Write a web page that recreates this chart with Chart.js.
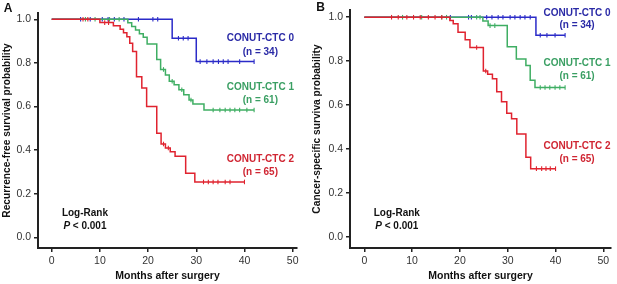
<!DOCTYPE html>
<html><head><meta charset="utf-8">
<script src="https://cdn.jsdelivr.net/npm/chart.js@4.4.1/dist/chart.umd.min.js"></script>
<style>
html,body{margin:0;padding:0;background:#fff;}
#wrap{position:relative;width:617px;height:284px;overflow:hidden;background:#fff;}
canvas{position:absolute;top:0;}
#cA{left:0;} #cB{left:310px;}
</style></head><body>
<div id="wrap"><canvas id="cA" width="310" height="284"></canvas><canvas id="cB" width="307" height="284"></canvas></div>
<script>
// ---------- tick labels ----------
const xTicks = [0, 10, 20, 30, 40, 50];
const yTicks = [0, 0.2, 0.4, 0.6, 0.8, 1.0];
const groupNames = ['CONUT-CTC 0', 'CONUT-CTC 1', 'CONUT-CTC 2'];
const groupN = ['(n = 34)', '(n = 61)', '(n = 65)'];

// ---------- Panel A: recurrence-free survival ----------
const blueA_t = [0, 25, 30, 42];
const blueA_s = [1, 0.913, 0.806, 0.806];
const blueA_c = [6, 8, 10.5, 11.7, 13, 15, 18, 21, 22, 26.3, 27.3, 28.3, 30.8, 32.2, 33.5, 34.6, 35.6, 36.6, 39, 42];

const greenA_t = [0, 15.8, 16.6, 17.4, 18.2, 19.0, 19.8, 21.8, 22.6, 23.6, 24.4, 25.4, 26.4, 27.4, 28.5, 29.3, 31.6, 42];
const greenA_s = [1, 0.984, 0.967, 0.951, 0.934, 0.918, 0.887, 0.816, 0.77, 0.745, 0.716, 0.70, 0.677, 0.654, 0.63, 0.612, 0.584, 0.584];
const greenA_c = [7, 9, 12, 14, 23.2, 25.0, 27.0, 28.9, 33.5, 34.9, 36, 37, 38, 39, 40.5, 42];

const redA_t = [0, 10, 12.8, 14.2, 14.9, 15.6, 16.2, 16.8, 17.6, 18.7, 19.7, 21.8, 22.7, 23.6, 24.6, 25.6, 27.8, 29.7, 40];
const redA_s = [1, 0.985, 0.97, 0.955, 0.938, 0.92, 0.89, 0.852, 0.737, 0.685, 0.60, 0.477, 0.428, 0.41, 0.392, 0.372, 0.294, 0.254, 0.254];
const redA_c = [6.5, 7.5, 11, 11.8, 23.2, 24.2, 31.5, 32.5, 33.5, 34.5, 36, 37, 40];

// ---------- Panel B: cancer-specific survival ----------
const blueB_t = [0, 35.9, 42];
const blueB_s = [1, 0.918, 0.918];
const blueB_c = [18, 21.8, 22.4, 25.6, 26.7, 28, 29, 30.5, 31.5, 32.6, 33.6, 34.7, 36.8, 38.2, 39.9, 42];

const greenB_t = [0, 24.8, 25.9, 29.9, 31.8, 33.8, 34.7, 35.7, 42];
const greenB_s = [1, 0.983, 0.962, 0.865, 0.81, 0.78, 0.713, 0.68, 0.68];
const greenB_c = [8, 12, 16.2, 17.2, 23.5, 24.2, 26.3, 27.3, 36.8, 37.8, 38.8, 39.9, 40.9, 42];

const redB_t = [0, 17.9, 18.6, 19.6, 21.1, 22.1, 24.9, 25.8, 26.8, 27.7, 28.7, 29.8, 30.8, 31.9, 33.8, 34.8, 40];
const redB_s = [1, 0.985, 0.97, 0.932, 0.897, 0.862, 0.755, 0.74, 0.72, 0.66, 0.615, 0.563, 0.538, 0.468, 0.362, 0.31, 0.31];
const redB_c = [5.7, 7.1, 8.9, 10.3, 11.7, 13.4, 14.8, 16.2, 23.5, 25.4, 36, 37.1, 38, 38.9, 40];

// ---------- styling ----------
const FAM = '"Liberation Sans", Arial, Helvetica, sans-serif';
const lineCol = ['#2b2bc8', '#3fae63', '#e0232f'];
const textCol = ['#2a2aa6', '#3a9f63', '#d02633'];

function stepVal(ts, ss, t) {
  let v = ss[0];
  for (let i = 0; i < ts.length; i++) { if (ts[i] <= t) v = ss[i]; }
  return v;
}

function groupDatasets(ts, ss, cs, col) {
  return [
    { data: ts.map((t, i) => ({ x: t, y: ss[i] })), stepped: 'before', borderColor: col,
      borderWidth: 1.5, pointRadius: 0, fill: false, showLine: true },
    { data: cs.map(t => ({ x: t, y: stepVal(ts, ss, t) })), showLine: false, pointStyle: 'line',
      rotation: 90, pointRadius: 2.3, borderColor: col, backgroundColor: col, pointBorderWidth: 1.1 }
  ];
}

const textPlugin = {
  id: 'txt',
  afterDraw(chart, args, opts) {
    const ctx = chart.ctx, xs = chart.scales.x, ys = chart.scales.y;
    ctx.save();
    ctx.textBaseline = 'middle';
    (opts.items || []).forEach(it => {
      const px = xs.getPixelForValue(it.x), py = ys.getPixelForValue(it.y);
      if (it.parts) {
        let total = 0;
        it.parts.forEach(p => { ctx.font = p.font; total += ctx.measureText(p.text).width; });
        let cx = px - total / 2;
        ctx.textAlign = 'left';
        it.parts.forEach(p => { ctx.font = p.font; ctx.fillStyle = it.color; ctx.fillText(p.text, cx, py); cx += ctx.measureText(p.text).width; });
      } else {
        ctx.font = it.font; ctx.fillStyle = it.color; ctx.textAlign = 'center';
        ctx.fillText(it.text, px, py);
      }
    });
    if (opts.letter) {
      ctx.font = 'bold 12px ' + FAM; ctx.fillStyle = '#111'; ctx.textAlign = 'center';
      ctx.fillText(opts.letter.text, opts.letter.px, opts.letter.py);
    }
    ctx.restore();
  }
};

function makeChart(id, cfg) {
  const bold10 = 'bold 10px ' + FAM;
  const items = [];
  for (let g = 0; g < 3; g++) {
    items.push({ text: groupNames[g], x: cfg.labX, y: cfg.labY[g][0], font: bold10, color: textCol[g] });
    items.push({ text: groupN[g], x: cfg.labX, y: cfg.labY[g][1], font: bold10, color: textCol[g] });
  }
  items.push({ text: 'Log-Rank', x: cfg.lrX, y: cfg.lrY[0], font: bold10, color: '#111' });
  items.push({ parts: [{ text: 'P', font: 'italic bold 10px ' + FAM }, { text: ' < 0.001', font: bold10 }],
               x: cfg.lrX, y: cfg.lrY[1], color: '#111' });

  return new Chart(document.getElementById(id), {
    type: 'line',
    data: { datasets: cfg.datasets },
    plugins: [textPlugin],
    options: {
      responsive: false, animation: false, devicePixelRatio: 1,
      layout: { padding: { left: 0, top: cfg.padTop, right: cfg.padRight, bottom: 0 } },
      plugins: { legend: { display: false }, tooltip: { enabled: false },
        txt: { items: items, letter: cfg.letter } },
      scales: {
        x: {
          type: 'linear', min: cfg.xMin, max: cfg.xMax,
          afterBuildTicks: s => { s.ticks = xTicks.map(v => ({ value: v })); },
          afterFit: s => { s.height = 36; },
          grid: { display: true, drawOnChartArea: false, drawTicks: true, tickLength: 4, color: '#222', lineWidth: 1.5 },
          border: { display: true, color: '#222', width: 2 },
          ticks: { color: '#333', font: { size: 10.5, family: FAM }, padding: 3, maxRotation: 0, autoSkip: false,
                   callback: v => String(v) },
          title: { display: true, text: 'Months after surgery', color: '#111',
                   font: { size: 10.5, weight: 'bold', family: FAM }, padding: { top: 0, bottom: 1.5 } }
        },
        y: {
          type: 'linear', min: cfg.yMin, max: cfg.yMax,
          afterBuildTicks: s => { s.ticks = yTicks.map(v => ({ value: v })); },
          afterFit: s => { s.width = cfg.yWidth; },
          grid: { display: true, drawOnChartArea: false, drawTicks: true, tickLength: 4, color: '#222', lineWidth: 1.5 },
          border: { display: true, color: '#222', width: 2 },
          ticks: { color: '#333', font: { size: 10.5, family: FAM }, padding: 3, callback: v => Number(v).toFixed(1) },
          title: { display: true, text: cfg.yTitle, color: '#111',
                   font: { size: 10.2, weight: 'bold', family: FAM }, padding: { top: 1, bottom: 0 } }
        }
      }
    }
  });
}

makeChart('cA', {
  datasets: [
    ...groupDatasets(redA_t, redA_s, redA_c, lineCol[2]),
    ...groupDatasets(greenA_t, greenA_s, greenA_c, lineCol[1]),
    ...groupDatasets(blueA_t, blueA_s, blueA_c, lineCol[0])
  ],
  xMin: -2.84, xMax: 50.9, yMin: -0.049, yMax: 1.029,
  padTop: 13, padRight: 13, yWidth: 38,
  yTitle: 'Recurrence-free survival probability',
  labX: 43.3, labY: [[0.913, 0.851], [0.687, 0.63], [0.357, 0.297]],
  lrX: 6.9, lrY: [0.11, 0.049],
  letter: { text: 'A', px: 8, py: 9 }
});

makeChart('cB', {
  datasets: [
    ...groupDatasets(redB_t, redB_s, redB_c, lineCol[2]),
    ...groupDatasets(greenB_t, greenB_s, greenB_c, lineCol[1]),
    ...groupDatasets(blueB_t, blueB_s, blueB_c, lineCol[0])
  ],
  xMin: -2.99, xMax: 51.6, yMin: -0.0515, yMax: 1.033,
  padTop: 10, padRight: 6, yWidth: 40,
  yTitle: 'Cancer-specific surviva probability',
  labX: 44.5, labY: [[1.02, 0.963], [0.79, 0.732], [0.41, 0.353]],
  lrX: 6.8, lrY: [0.107, 0.046],
  letter: { text: 'B', px: 10.5, py: 8 }
});
</script>
</body></html>
